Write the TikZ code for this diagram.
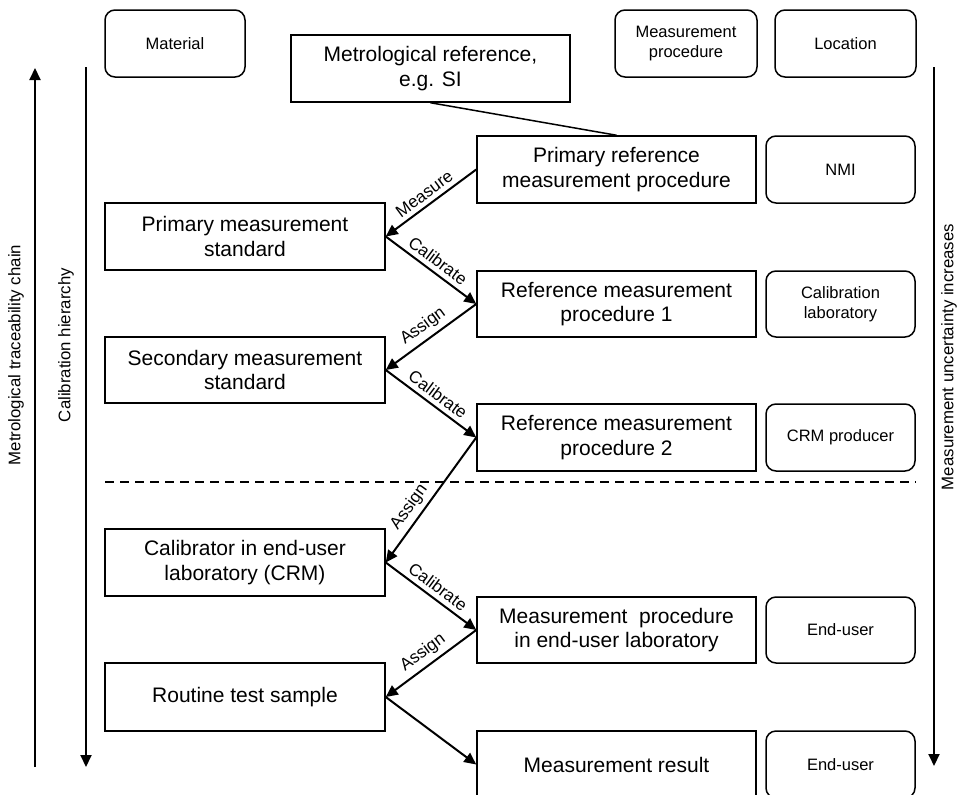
\documentclass[tikz,border=0pt]{standalone}
\usepackage{fontspec}
\setmainfont{Liberation Sans}
\usetikzlibrary{arrows.meta}
\begin{document}
\begin{tikzpicture}[x=1pt,y=-1pt,
  bigbox/.style={draw, line width=1.5pt, minimum width=279pt, minimum height=67pt, inner sep=0pt, align=center, font=\fontsize{21}{24.5}\selectfont},
  roundbox/.style={draw, line width=1.5pt, rounded corners=10pt, minimum height=67pt, inner sep=0pt, align=center, font=\fontsize{16.5}{19.5}\selectfont},
  flow/.style={line width=2pt, -{Triangle[length=12pt,width=11pt]}},
  lbl/.style={font=\fontsize{17}{19}\selectfont, sloped, above, inner sep=4.5pt},
  sidetext/.style={rotate=90, font=\fontsize{16.8}{19}\selectfont},
]
\useasboundingbox (0,0) rectangle (961,795);

% header boxes
\node[roundbox, minimum width=140pt] (mat) at (175,43.5) {Material};
\node[roundbox, minimum width=142pt] (mph) at (686,43.5) {Measurement\\procedure};
\node[roundbox, minimum width=141pt] (loc) at (845.5,43.5) {Location};
\node[bigbox] (met) at (430.5,68.5) {Metrological reference,\\e.g. SI};

% right column (procedures)
\node[bigbox] (prmp) at (616.5,169.5) {Primary reference\\measurement procedure};
\node[bigbox, minimum height=66pt] (rmp1) at (616.5,304) {Reference measurement\\procedure 1};
\node[bigbox] (rmp2) at (616.5,437.5) {Reference measurement\\procedure 2};
\node[bigbox, minimum height=66pt] (mpeu) at (616.5,630) {Measurement~ procedure\\in end-user laboratory};
\node[bigbox] (mr) at (616.5,764.5) {Measurement result};

% left column (materials)
\node[bigbox, minimum width=280pt] (pms) at (245,236.5) {Primary measurement\\standard};
\node[bigbox, minimum width=280pt, minimum height=66pt] (sms) at (245,370) {Secondary measurement\\standard};
\node[bigbox, minimum width=280pt] (cal) at (245,562.5) {Calibrator in end-user\\laboratory (CRM)};
\node[bigbox, minimum width=280pt, minimum height=68pt] (rts) at (245,697) {Routine test sample};

% location column
\node[roundbox, minimum width=149pt] (nmi) at (840.5,169.5) {NMI};
\node[roundbox, minimum width=149pt, minimum height=66pt] (clab) at (840.5,304) {Calibration\\laboratory};
\node[roundbox, minimum width=149pt] (crm) at (840.5,437.5) {CRM producer};
\node[roundbox, minimum width=149pt, minimum height=66pt] (eu1) at (840.5,630) {End-user};
\node[roundbox, minimum width=149pt] (eu2) at (840.5,764.5) {End-user};

% link from metrological reference
\draw[line width=1.5pt] (met.south) -- (prmp.north);

% flow arrows
\draw[flow] (prmp.west) -- node[lbl] {Measure} (pms.east);
\draw[flow] (pms.east) -- node[lbl] {Calibrate} (rmp1.west);
\draw[flow] (rmp1.west) -- node[lbl] {Assign} (sms.east);
\draw[flow] (sms.east) -- node[lbl] {Calibrate} (rmp2.west);
\draw[flow] (rmp2.west) -- node[lbl, pos=0.62] {Assign} (cal.east);
\draw[flow] (cal.east) -- node[lbl] {Calibrate} (mpeu.west);
\draw[flow] (mpeu.west) -- node[lbl] {Assign} (rts.east);
\draw[flow] (rts.east) -- (mr.west);

% dashed separator
\coordinate (dl) at (105,482);
\coordinate (dr) at (916,482);
\draw[line width=1.5pt, dash pattern=on 9pt off 6pt] (dl) -- (dr);

% side arrows
\coordinate (tb) at (35,767);
\coordinate (tt) at (35,68);
\coordinate (ct) at (86,67);
\coordinate (cb) at (86,767);
\coordinate (ut) at (934,67);
\coordinate (ub) at (934,766);
\draw[flow] (tb) -- (tt);
\draw[flow] (ct) -- (cb);
\draw[flow] (ut) -- (ub);

\node[sidetext] (tlab) at (16,355) {Metrological traceability chain};
\node[sidetext] (clabtxt) at (66,345) {Calibration hierarchy};
\node[sidetext] (ulab) at (949,357) {Measurement uncertainty increases};
\end{tikzpicture}
\end{document}
